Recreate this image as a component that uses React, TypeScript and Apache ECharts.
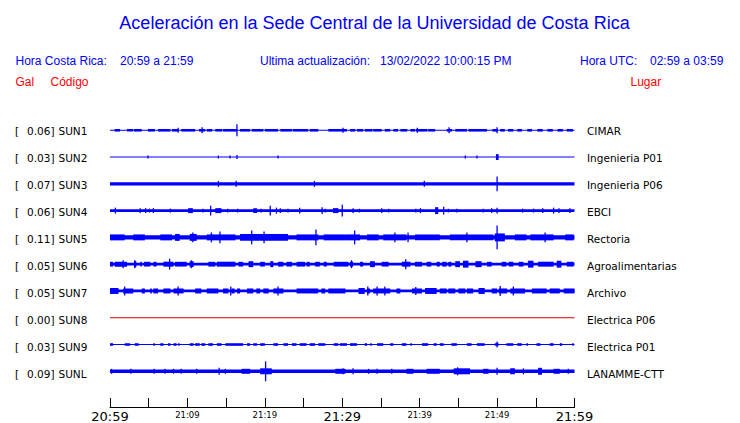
import React, { useEffect, useRef } from "react";
import * as echarts from "echarts";

const TITLE = "Aceleración en la Sede Central de la Universidad de Costa Rica";
const codes = ["SUN1", "SUN2", "SUN3", "SUN4", "SUN5", "SUN6", "SUN7", "SUN8", "SUN9", "SUNL"];
const galValues = ["0.06", "0.03", "0.07", "0.06", "0.11", "0.05", "0.05", "0.00", "0.03", "0.09"];
const places = ["CIMAR", "Ingenieria P01", "Ingenieria P06", "EBCI", "Rectoria", "Agroalimentarias", "Archivo", "Electrica P06", "Electrica P01", "LANAMME-CTT"];
// half thickness of the continuous noise band of each trace (px units of the trace scale)
const baseAmp = [0.5, 0.5, 1.7, 1.5, 2.2, 1.4, 1.4, 0.5, 0.5, 1.7];
const tickLabels = ["20:59", "", "21:09", "", "21:19", "", "21:29", "", "21:39", "", "21:49", "", "21:59"];
const majorTicks = ["20:59", "21:29", "21:59"];

// bursts: [start min, end min, half amplitude]; spikes: [min, half amplitude]
const sun1Bursts = [[0.6,1.3,1.3],[2.2,3.0,1.3],[3.1,4.1,1.3],[4.9,5.8,1.3],[6.2,7.8,1.3],[8.0,8.8,1.3],[9.2,11.0,1.3],[11.5,12.3,1.3],[12.5,13.2,1.3],[13.6,14.5,1.3],[14.6,16.4,1.3],[16.8,18.1,1.3],[18.3,19.8,1.3],[20.0,21.7,1.3],[22.0,23.5,1.3],[23.6,25.6,1.3],[25.8,26.9,1.3],[28.2,30.6,1.3],[31.0,31.7,1.3],[31.9,32.7,1.3],[32.9,33.9,1.3],[34.0,35.1,1.3],[35.5,36.2,1.3],[36.6,37.2,1.3],[37.5,38.4,1.3],[38.8,39.4,1.3],[39.5,41.0,1.3],[41.1,42.0,1.3],[43.5,44.2,1.3],[44.6,46.1,1.3],[46.3,48.7,1.3],[49.4,50.1,1.3],[50.4,51.0,1.3],[51.4,52.1,1.3],[52.6,53.2,1.3],[53.9,54.5,1.3],[55.2,55.9,1.3],[56.5,57.2,1.3],[57.8,58.5,1.3],[59.0,59.8,1.3]];
const sun1Spikes = [[8.8,2.5],[11.9,3],[16.4,6],[30.1,2.5],[39.7,2.5],[43.8,3],[50.0,3]];
const sun2Bursts = [[49.85,50.2,3]];
const sun2Spikes = [[4.9,1.5],[14.0,1.5],[15.5,1.5],[16.4,2],[21.7,1.5],[45.9,1.5],[47.4,1.5]];
const sun3Bursts = [];
const sun3Spikes = [[14.0,3],[16.3,3],[26.4,3],[40.6,3],[50.0,7.5]];
const sun4Bursts = [[10.1,10.7,2.5],[13.6,14.4,2.5],[18.5,19.0,2.5],[28.8,29.5,2.5],[42.0,42.4,3.5]];
const sun4Spikes = [[0.7,3],[3.9,2.5],[4.6,2.5],[5.1,2],[5.6,2.5],[7.8,2],[12.0,2],[13.0,5],[15.2,2],[16.5,2],[19.5,2],[20.7,5],[21.5,3],[22.0,2.5],[23.0,2],[24.5,3],[27.4,3.5],[27.8,2],[30.0,6],[31.4,2.5],[32.2,2],[35.1,2.5],[36.0,2],[39.5,2],[40.1,2.5],[43.1,4],[43.7,2],[44.8,2],[48.2,2],[49.3,2.5],[50.0,3],[53.3,2],[54.7,2],[55.9,2.5],[57.3,3],[58.0,2.5],[59.4,2.5]];
const sun5Bursts = [[0.0,1.9,3],[3.0,4.5,3],[6.5,8.0,3],[8.4,9.0,3.5],[10.3,11.2,3.5],[12.5,16.2,3],[16.8,23.0,3.5],[24.1,26.9,3],[27.6,30.4,3],[30.4,32.3,3],[33.2,34.7,3],[35.3,38.3,3],[39.4,42.6,3],[43.9,49.5,3],[49.7,51.0,4],[52.3,53.8,3],[54.3,57.3,3],[58.8,59.9,3]];
const sun5Spikes = [[10.7,5],[13.1,5],[14.2,6],[18.3,7],[19.9,6],[26.6,8],[31.6,7],[36.8,5],[38.5,5],[46.1,5],[50.0,12],[56.2,5]];
const sun6Bursts = [[0.0,0.4,2.4],[0.6,2.2,2.5],[3.1,3.4,3],[3.9,4.1,2.4],[4.4,5.2,2.4],[5.6,6.0,2.4],[6.9,8.2,2.5],[8.4,9.9,2.4],[10.3,10.8,3],[12.7,13.6,2.4],[13.8,16.2,2.5],[16.6,17.2,2.4],[17.9,18.5,3],[19.4,20.0,2.4],[20.7,21.1,3],[21.7,22.4,2.4],[22.8,23.5,2.4],[24.1,25.2,2.4],[25.4,25.8,2.4],[26.5,27.1,2.4],[27.6,28.0,2.4],[28.9,30.8,2.4],[31.0,31.4,2.5],[32.3,32.7,2.4],[33.6,34.2,3],[35.1,36.0,2.4],[37.7,38.8,2.5],[39.4,40.3,2.4],[40.9,41.5,2.4],[42.2,42.6,2.4],[42.9,43.5,2.4],[43.7,44.1,2.4],[44.6,45.2,3],[45.6,46.3,3.5],[47.2,48.0,3],[48.7,49.3,2.4],[50.6,51.2,2.4],[51.5,52.1,2.4],[52.8,53.4,2.4],[54.0,54.7,3.5],[55.3,57.3,2.5],[57.7,58.3,3.5],[59.0,59.9,2.4]];
const sun6Spikes = [[1.7,4],[3.2,4],[7.7,5.5],[10.5,4],[31.2,4],[38.2,5]];
const sun7Bursts = [[0.0,1.1,3],[1.7,3.0,2.5],[4.1,4.5,2.5],[5.2,5.4,2.5],[5.6,6.2,2.5],[6.9,7.8,2.5],[8.2,9.5,2.5],[11.0,11.8,2.5],[12.5,14.0,2.5],[14.6,15.3,2.5],[15.7,16.1,2.5],[16.4,16.8,2.5],[17.7,18.5,2.5],[18.9,19.4,2.5],[19.8,20.5,2.5],[21.1,22.4,2.5],[24.1,26.9,2.5],[27.3,27.8,2.5],[28.2,30.4,2.5],[32.1,32.9,3],[33.2,33.6,2.5],[34.0,36.2,2.5],[37.0,37.5,2.5],[39.0,40.3,2.5],[40.7,42.2,3],[42.6,43.5,2.5],[43.7,44.6,2.5],[45.0,45.9,2.5],[46.1,46.9,2.5],[47.6,48.4,3],[49.3,50.0,2.5],[50.2,51.3,2.5],[51.7,53.6,2.5],[54.5,56.4,2.5],[56.8,58.1,2.5],[58.6,60,2.5]];
const sun7Spikes = [[1.9,4.5],[8.8,4.5],[15.6,4.5],[21.7,4.5],[33.3,4.5],[34.5,4.5],[35.5,4.5],[39.5,4],[50.4,5],[52.1,4.5]];
const sun8Bursts = [];
const sun8Spikes = [];
const sun9Bursts = [[0.0,0.4,1.3],[1.9,2.6,1.3],[3.2,3.7,1.3],[5.6,5.8,1.3],[6.5,6.9,1.3],[7.5,7.8,1.3],[8.2,8.6,1.3],[8.8,9.0,1.3],[10.3,10.8,1.3],[11.0,11.6,1.3],[11.8,12.3,1.3],[12.7,13.3,1.3],[13.8,14.4,1.3],[14.9,17.2,1.3],[17.7,18.1,1.3],[18.5,19.0,1.3],[19.4,20.0,1.3],[21.1,21.7,1.3],[22.4,23.0,1.3],[23.5,24.1,1.3],[24.5,25.4,1.3],[25.8,26.5,1.3],[26.9,27.8,1.3],[28.9,29.5,1.3],[29.7,30.6,1.3],[31.0,31.9,1.3],[32.9,33.2,1.3],[33.6,33.8,1.3],[34.5,35.3,1.3],[36.2,36.6,1.3],[37.7,38.3,1.3],[38.8,39.0,1.3],[40.3,41.1,1.3],[41.8,42.2,1.3],[42.6,43.1,1.3],[44.1,44.8,1.3],[46.1,46.7,1.3],[47.4,48.4,1.3],[49.7,50.2,1.3],[51.2,52.1,1.3],[52.6,53.2,1.3],[53.8,54.0,1.3],[55.1,55.6,1.3],[56.8,57.3,1.3],[58.1,58.4,1.3],[59.7,59.9,1.3]];
const sun9Spikes = [[50.0,3]];
const sunLBursts = [[17.0,18.1,2.5],[19.4,20.9,3],[29.1,30.4,2.5],[38.3,39.2,2.5],[40.9,42.6,2.5],[44.4,46.5,3],[48.2,48.9,2.5],[51.7,52.3,3],[55.3,55.8,3.5],[57.3,58.1,2.5]];
const sunLSpikes = [[0.2,2.5],[2.7,2.5],[5.7,2.5],[7.1,2.5],[8.2,2.5],[9.2,2.5],[11.2,2.5],[14.1,3.5],[14.9,2.5],[20.1,10],[30.1,3],[31.4,3],[33.4,2.5],[34.5,2.5],[36.4,2.5],[44.9,4],[50.0,3.5],[53.4,3],[59.2,2.5]];

const allBursts = [sun1Bursts, sun2Bursts, sun3Bursts, sun4Bursts, sun5Bursts, sun6Bursts, sun7Bursts, sun8Bursts, sun9Bursts, sunLBursts];
const allSpikes = [sun1Spikes, sun2Spikes, sun3Spikes, sun4Spikes, sun5Spikes, sun6Spikes, sun7Spikes, sun8Spikes, sun9Spikes, sunLSpikes];

const BLUE = "#0000ff";
const RED = "#e00000";
const SPACING = 27;

export default function App() {
  const ref = useRef<HTMLDivElement>(null);
  useEffect(() => {
    if (!ref.current) return;
    const chart = echarts.init(ref.current, null, { renderer: "svg" });

    // items: [t0, t1, trace, amp, isSpike]
    const items: number[][] = [];
    codes.forEach((_, k) => {
      items.push([0, 60, k, baseAmp[k], 0]);
      allBursts[k].forEach((b) => items.push([b[0], b[1], k, b[2], 0]));
      allSpikes[k].forEach((s) => items.push([s[0], s[0], k, s[1], 1]));
    });

    const graphics: any[] = [];
    const txt = (text: string, x: number, y: number, size: number, fill: string, align = "left", family = '"Liberation Sans", Arial, sans-serif') => ({
      type: "text",
      x,
      y,
      silent: true,
      style: { text, fontSize: size, fontFamily: family, fill, textAlign: align, textVerticalAlign: "middle", align, verticalAlign: "middle" },
    });
    graphics.push(txt(TITLE, 374.5, 22.5, 18, BLUE, "center"));
    graphics.push(txt("Hora Costa Rica:", 15.5, 60.5, 12, BLUE));
    graphics.push(txt("20:59 a 21:59", 120, 60.5, 12, BLUE));
    graphics.push(txt("Ultima actualización:", 260, 60.5, 12, BLUE));
    graphics.push(txt("13/02/2022 10:00:15 PM", 380, 60.5, 12, BLUE));
    graphics.push(txt("Hora UTC:", 580, 60.5, 12, BLUE));
    graphics.push(txt("02:59 a 03:59", 650, 60.5, 12, BLUE));
    graphics.push(txt("Gal", 15.5, 81.5, 12, "#ff0000"));
    graphics.push(txt("Código", 50.5, 81.5, 12, "#ff0000"));
    graphics.push(txt("Lugar", 630.5, 81.5, 12, "#ff0000"));
    const dv = '"DejaVu Sans", sans-serif';
    codes.forEach((c, k) => {
      const y = 130.5 + SPACING * k;
      graphics.push(txt("[", 15, y, 10.5, "#000", "left", dv));
      graphics.push(txt(galValues[k] + "]", 54.5, y, 10.5, "#000", "right", dv));
      graphics.push(txt(c, 58.5, y, 10.5, "#000", "left", dv));
      graphics.push(txt(places[k], 587, y, 10.5, "#000", "left", dv));
    });

    chart.setOption({
      animation: false,
      backgroundColor: "#ffffff",
      grid: { left: 110, right: 165.5, top: 103.5, height: 306 },
      xAxis: {
        type: "value",
        min: 0,
        max: 60,
        interval: 5,
        axisLine: { onZero: false, lineStyle: { color: "#000", width: 1 } },
        axisTick: { show: true, inside: true, length: 9, lineStyle: { color: "#000" } },
        splitLine: { show: false },
        axisLabel: {
          margin: 3,
          showMinLabel: true,
          showMaxLabel: true,
          color: "#000",
          formatter: (v: number) => {
            const s = tickLabels[Math.round(v / 5)] || "";
            if (!s) return "";
            return majorTicks.includes(s) ? `{big|${s}}` : `{small|${s}}`;
          },
          rich: {
            big: { fontSize: 13, fontFamily: dv, color: "#000" },
            small: { fontSize: 8.5, fontFamily: dv, color: "#000" },
          },
        },
      },
      yAxis: { type: "value", min: -9 * SPACING - 36, max: SPACING, show: false, splitLine: { show: false } },
      graphic: graphics,
      series: [
        {
          type: "custom",
          silent: true,
          clip: false,
          data: items,
          encode: { x: [0, 1], y: 3 },
          renderItem: (params: any, api: any) => {
            const t0 = api.value(0);
            const t1 = api.value(1);
            const k = api.value(2);
            const a = api.value(3);
            const spike = api.value(4);
            const off = -SPACING * k;
            const p0 = api.coord([t0, off + a]);
            const p1 = api.coord([t1, off - a]);
            let x = p0[0];
            let w = p1[0] - p0[0];
            if (spike) {
              x = p0[0] - 0.65;
              w = 1.3;
            }
            const h = Math.max(1, p1[1] - p0[1]);
            return {
              type: "rect",
              shape: { x, y: p0[1], width: Math.max(1, w), height: h },
              style: { fill: codes[k] === "SUN8" ? RED : BLUE },
            };
          },
        },
      ],
    });
    return () => chart.dispose();
  }, []);
  return <div ref={ref} style={{ position: "absolute", left: 0, top: 0, width: 740, height: 423 }} />;
}
